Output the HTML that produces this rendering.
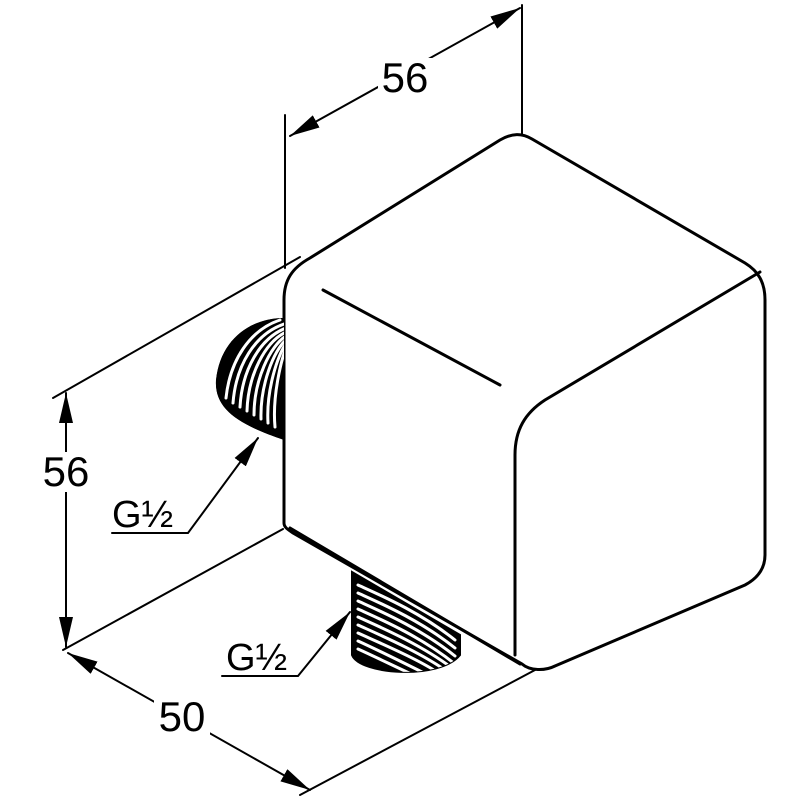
<!DOCTYPE html>
<html><head><style>
html,body{margin:0;padding:0;background:#fff;}
svg{display:block}
text{font-family:"Liberation Sans",sans-serif;fill:#000}
</style></head><body>
<svg width="800" height="800" viewBox="0 0 800 800" xmlns="http://www.w3.org/2000/svg">
<defs>
<marker id="a" viewBox="0 0 30 14" refX="30" refY="7" markerWidth="30" markerHeight="14" markerUnits="userSpaceOnUse" orient="auto-start-reverse">
<path d="M0,0 L30,7 L0,14 z" fill="#000"/>
</marker>
<clipPath id="t1"><path d="M284,318 C250,318 220,340 216,380 C214,410 240,425 284,440 z"/></clipPath>
<clipPath id="t2"><path d="M352,572 L352,655 C360,675 440,680 460,655 L460,635 z"/></clipPath>
</defs>
<g fill="none" stroke="#000" stroke-linecap="round">
<line x1="285" y1="115" x2="285" y2="268" stroke-width="2"/>
<line x1="522" y1="5" x2="522" y2="135" stroke-width="2"/>
<line x1="290" y1="136" x2="520" y2="8" stroke-width="2" marker-start="url(#a)" marker-end="url(#a)"/>
<line x1="66" y1="393" x2="66" y2="647" stroke-width="2" marker-start="url(#a)" marker-end="url(#a)"/>
<line x1="53" y1="398" x2="300" y2="257" stroke-width="2"/>
<line x1="63" y1="650" x2="283" y2="529" stroke-width="2"/>
<line x1="68" y1="653" x2="310" y2="790" stroke-width="2" marker-start="url(#a)" marker-end="url(#a)"/>
<line x1="300" y1="795" x2="535" y2="670" stroke-width="2"/>
<path d="M284,523 L284,300 C284,280 292,268 310,258 L500,140 C512,133 522,133 532,139 L745,263 C758,271 765,282 765,300 L765,555 C765,568 758,578 745,585 L555,666 C545,671 530,671 522,664 L293,533 C287,529 284,527 284,523" stroke-width="3"/>
<path d="M515,655 L515,455 C515,430 525,413 545,400 L760,272" stroke-width="3"/>
<line x1="323" y1="290" x2="500" y2="385" stroke-width="3"/>
<g clip-path="url(#t1)" stroke-width="3">
<path d="M284,318 C250,318 220,340 216,380 C214,410 240,425 284,440 z" fill="#000"/>
</g>
<g clip-path="url(#t1)" stroke="#fff" stroke-width="3">
<path d="M226,398 C230,360 250,330 280,320"/>
<path d="M233,403 C236,365 255,334 284,324"/>
<path d="M240,407 C242,370 260,338 286,328"/>
<path d="M247,411 C248,375 265,342 286,332"/>
<path d="M254,415 C254,380 270,346 286,336"/>
<path d="M261,419 C260,385 274,350 286,340"/>
<path d="M268,423 C266,390 278,354 286,344"/>
<path d="M275,427 C272,395 282,358 286,348"/>
</g>
<path d="M352,572 L352,655 C360,675 440,680 460,655 L460,635 z" fill="#000" stroke-width="2"/>
<g clip-path="url(#t2)" stroke="#fff" stroke-width="3">
<path d="M358,585 C380,595 420,612 455,640"/>
<path d="M358,593 C380,603 420,620 455,648"/>
<path d="M358,601 C380,611 420,628 455,656"/>
<path d="M358,609 C380,619 420,636 455,664"/>
<path d="M358,617 C380,627 420,644 452,668"/>
<path d="M358,625 C380,635 420,652 448,672"/>
<path d="M358,633 C380,643 420,660 440,674"/>
<path d="M358,641 C380,651 410,666 430,676"/>
<path d="M358,649 C380,659 400,669 420,678"/>
</g>
<line x1="290" y1="528" x2="520" y2="664" stroke-width="3"/>
<polyline points="112,533 188,533 258,438" stroke-width="2" marker-end="url(#a)"/>
<polyline points="222,676 298,676 350,612" stroke-width="2" marker-end="url(#a)"/>
</g>
<rect x="378" y="58" width="56" height="38" fill="#fff"/>
<rect x="40" y="452" width="52" height="40" fill="#fff"/>
<rect x="154" y="696" width="56" height="40" fill="#fff"/>
<text x="405" y="92" font-size="42" text-anchor="middle">56</text>
<text x="66" y="486" font-size="42" text-anchor="middle">56</text>
<text x="182" y="731" font-size="42" text-anchor="middle">50</text>
<text x="112" y="527" font-size="38">G½</text>
<text x="226" y="670" font-size="38">G½</text>
</svg>
</body></html>
